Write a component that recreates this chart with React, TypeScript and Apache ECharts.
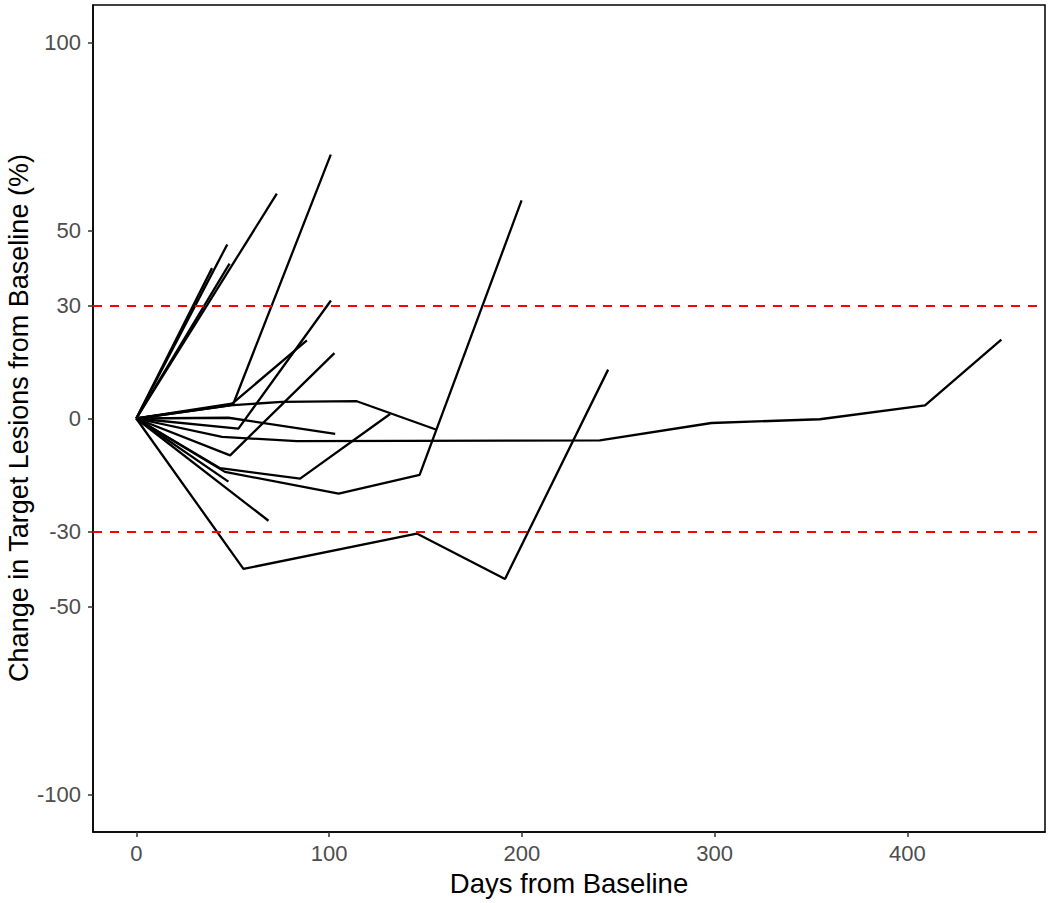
import React, { useEffect, useRef } from "react";
import * as echarts from "echarts";

// Axis ticks and reference lines
const xTicks = [0, 100, 200, 300, 400];
const yTicks = [-100, -50, -30, 0, 30, 50, 100];
const refLines = [30, -30];
const xTitle = "Days from Baseline";
const yTitle = "Change in Target Lesions from Baseline (%)";

// Per-patient trajectories: days from baseline and % change in target lesions
const p01Days = [0, 50.4, 100.9];
const p01Change = [0, 4, 70.2];
const p02Days = [0, 72.9];
const p02Change = [0, 59.8];
const p03Days = [0, 47.2];
const p03Change = [0, 46.3];
const p04Days = [0, 39.3];
const p04Change = [0, 40];
const p05Days = [0, 48.4];
const p05Change = [0, 41.2];
const p06Days = [0, 53, 101];
const p06Change = [0, -2.7, 31.4];
const p07Days = [0, 48.7, 88.5];
const p07Change = [0, 3.5, 20.8];
const p08Days = [0, 48.7, 102.8];
const p08Change = [0, -9.8, 17.4];
const p09Days = [0, 48.5, 75.5, 114.4, 155.8];
const p09Change = [0, 3.5, 4.4, 4.6, -3];
const p10Days = [0, 47.8, 103.2];
const p10Change = [0, 0.2, -4.1];
const p11Days = [0, 44.5, 83.3, 240.5, 298.4, 354.6, 409.2, 448.8];
const p11Change = [0, -4.9, -6, -5.8, -1.2, -0.2, 3.5, 21];
const p12Days = [0, 43.5, 85, 131.7];
const p12Change = [0, -13.2, -16, 1.2];
const p13Days = [0, 46, 105, 147, 199.9];
const p13Change = [0, -14.2, -20, -15, 58];
const p14Days = [0, 47.8];
const p14Change = [0, -16.8];
const p15Days = [0, 68.6];
const p15Change = [0, -27.2];
const p16Days = [0, 55.6, 145.5, 191.3, 244.8];
const p16Change = [0, -40, -30.6, -42.7, 13];

const patients: [number[], number[]][] = [
  [p01Days, p01Change],
  [p02Days, p02Change],
  [p03Days, p03Change],
  [p04Days, p04Change],
  [p05Days, p05Change],
  [p06Days, p06Change],
  [p07Days, p07Change],
  [p08Days, p08Change],
  [p09Days, p09Change],
  [p10Days, p10Change],
  [p11Days, p11Change],
  [p12Days, p12Change],
  [p13Days, p13Change],
  [p14Days, p14Change],
  [p15Days, p15Change],
  [p16Days, p16Change],
];

const FONT = "'Liberation Sans', Arial, sans-serif";

export default function App() {
  const ref = useRef<HTMLDivElement>(null);

  useEffect(() => {
    if (!ref.current) return;
    const chart = echarts.init(ref.current, null, { renderer: "svg" });

    const series: any[] = patients.map(([d, c], i) => ({
      type: "line",
      name: "P" + (i + 1),
      data: d.map((x, j) => [x, c[j]]),
      symbol: "none",
      showSymbol: false,
      lineStyle: { color: "#000000", width: 2.3 },
      z: 3,
    }));

    series.push({
      type: "line",
      name: "ref",
      data: [],
      symbol: "none",
      markLine: {
        silent: true,
        symbol: "none",
        label: { show: false },
        lineStyle: { color: "#FF0000", width: 2.2, type: [9, 8] },
        data: refLines.map((v) => ({ yAxis: v })),
      },
      z: 2,
    });

    chart.setOption({
      animation: false,
      backgroundColor: "#ffffff",
      grid: {
        left: 93,
        right: 5,
        top: 5,
        bottom: 71,
        containLabel: false,
        outerBoundsMode: "none",
        show: true,
        borderColor: "#000000",
        borderWidth: 1.5,
        backgroundColor: "transparent",
      },
      graphic: [
        {
          type: "text",
          x: 19,
          y: 418,
          rotation: Math.PI / 2,
          style: {
            text: yTitle,
            fontFamily: FONT,
            fontSize: 27,
            fill: "#000000",
            align: "center",
            verticalAlign: "middle",
          },
        },
      ],
      xAxis: {
        type: "value",
        min: -22.45,
        max: 471.45,
        name: xTitle,
        nameLocation: "middle",
        nameGap: 37,
        nameTextStyle: { fontFamily: FONT, fontSize: 27.5, color: "#000000" },
        axisLine: { show: true, onZero: false, lineStyle: { color: "#000000", width: 1.5 } },
        axisTick: {
          show: true,
          length: 5,
          customValues: xTicks,
          lineStyle: { color: "#333333", width: 1.5 },
        },
        axisLabel: {
          customValues: xTicks,
          margin: 10,
          fontFamily: FONT,
          fontSize: 22,
          color: "#4D4D4D",
        },
        splitLine: { show: false },
      },
      yAxis: {
        type: "value",
        min: -110,
        max: 110,
        axisLine: { show: true, onZero: false, lineStyle: { color: "#000000", width: 1.5 } },
        axisTick: {
          show: true,
          length: 5,
          customValues: yTicks,
          lineStyle: { color: "#333333", width: 1.5 },
        },
        axisLabel: {
          customValues: yTicks,
          margin: 12,
          fontFamily: FONT,
          fontSize: 22,
          color: "#4D4D4D",
        },
        splitLine: { show: false },
      },
      series,
    });

    return () => chart.dispose();
  }, []);

  return (
    <div
      ref={ref}
      style={{ position: "fixed", left: 0, top: 0, width: 1050, height: 903 }}
    />
  );
}
